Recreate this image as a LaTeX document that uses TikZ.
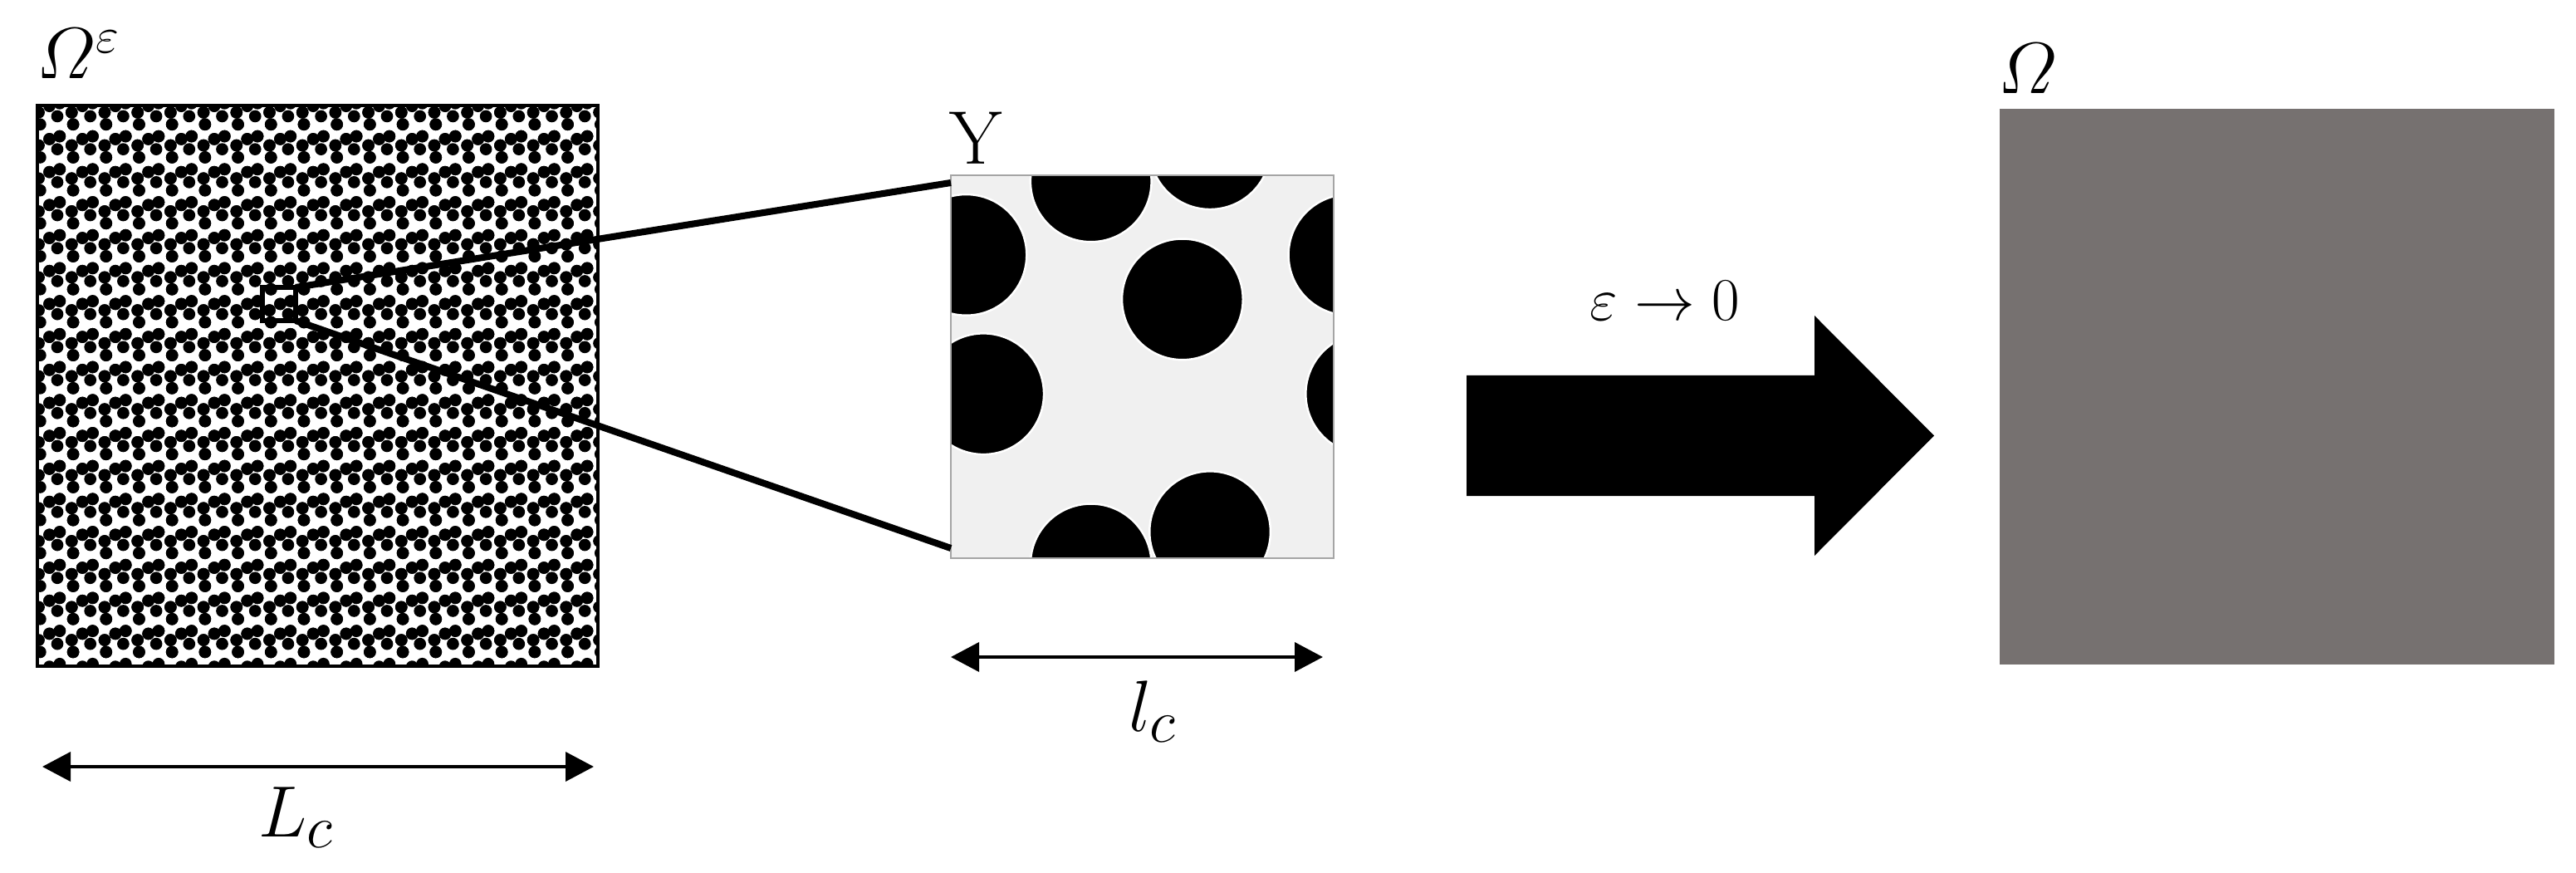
\documentclass[tikz,border=0pt]{standalone}
\usepackage{amsmath}
\usetikzlibrary{arrows.meta}

\definecolor{fondocelda}{RGB}{240,240,240}
\definecolor{bordecelda}{RGB}{165,165,165}
\definecolor{gris}{RGB}{118,113,112}

\DeclareMathSizes{25}{25}{19}{14}
\DeclareMathSizes{26.6}{26.6}{20}{15}

% discos de la celda unidad (coordenadas en [0,1]^2, con copias periodicas)
\newcommand{\discos}[2]{%
  \foreach \u/\v in {0.366/0.984, 0.366/-0.016, 0.677/1.069, 0.677/0.069,
                     0.040/0.792, 1.040/0.792, 0.605/0.676, 0.085/0.429, 1.085/0.429}
    {\filldraw[fill=black, draw=#1, line width=#2] (\u,\v) circle (0.158);}%
}

\tikzset{
  cota/.style={{Triangle[length=3.4mm,width=3.5mm]}-{Triangle[length=3.4mm,width=3.5mm]}, line width=1.1pt},
  zoomlinea/.style={line width=2.3pt}
}

\begin{document}
\begin{tikzpicture}
    \useasboundingbox (0,0) rectangle (31.02,10.5);

    \coordinate (A) at (0.45,2.48); % Omega^eps
    \coordinate (B) at (7.20,9.23);
    \coordinate (C) at (11.45,3.78); % celda Y
    \coordinate (D) at (16.06,8.39);
    \coordinate (E) at (24.08,2.50); % Omega
    \coordinate (F) at (30.76,9.19);

    % dominio perforado: la celda repetida 17 x 17 veces
    \fill[white] (A) rectangle (B);
    \begin{scope}[shift={(A)}, scale=0.397]
        \clip (0,0) rectangle (17,17);
        \foreach \i in {0,...,16} {
            \foreach \j in {0,...,16} {
                \begin{scope}[shift={(\i,\j)}]
                    \discos{black}{0.6pt}
                \end{scope}
            }
        }
    \end{scope}
    \draw[line width=1pt] (A) rectangle (B);

    % celda unidad
    \begin{scope}[shift={(C)}, scale=4.61]
        \clip (0,0) rectangle (1,1);
        \fill[fondocelda] (0,0) rectangle (1,1);
        \discos{white}{0.7pt}
    \end{scope}
    \draw[bordecelda, line width=0.8pt] (C) rectangle (D);

    % lupa
    \coordinate (s1) at (3.16,6.64);
    \coordinate (s2) at (3.56,7.04);
    \draw[line width=1.6pt] (s1) rectangle (s2);
    \coordinate (c1) at (11.45,8.30);
    \coordinate (c2) at (11.45,3.90);
    \draw[zoomlinea] (s2) -- (c1);
    \draw[zoomlinea] (3.56,6.64) -- (c2);

    % dominio homogeneizado
    \fill[gris] (E) rectangle (F);

    % flecha
    \fill (17.66,4.53) -- (21.85,4.53) -- (21.85,3.81) -- (23.29,5.255)
        -- (21.85,6.70) -- (21.85,5.98) -- (17.66,5.98) -- cycle;

    % cotas
    \coordinate (L1) at (0.51,1.27);
    \coordinate (L2) at (7.15,1.27);
    \draw[cota] (L1) -- (L2);
    \coordinate (l1) at (11.45,2.59);
    \coordinate (l2) at (15.93,2.59);
    \draw[cota] (l1) -- (l2);

    \node[anchor=base west, font=\fontsize{25}{30}\selectfont, inner sep=0pt] (omeps) at (0.44,9.55) {$\varOmega^{\varepsilon}$};
    \node[anchor=base west, font=\fontsize{25}{30}\selectfont, inner sep=0pt] (om) at (24.06,9.37) {$\varOmega$};
    \node[anchor=base, font=\fontsize{26}{30}\selectfont, inner sep=0pt] (Y) at (11.75,8.52) {Y};
    \node[font=\fontsize{20}{24}\selectfont, inner sep=0pt] (lim) at (20.05,6.88) {$\varepsilon\rightarrow 0$};
    \node[anchor=base, font=\fontsize{26.6}{30}\selectfont, inner sep=0pt] (Lc) at (3.57,0.43) {$L_{c}$};
    \node[anchor=base, font=\fontsize{26.6}{30}\selectfont, inner sep=0pt] (lc) at (13.88,1.70) {$l_{c}$};
\end{tikzpicture}
\end{document}
